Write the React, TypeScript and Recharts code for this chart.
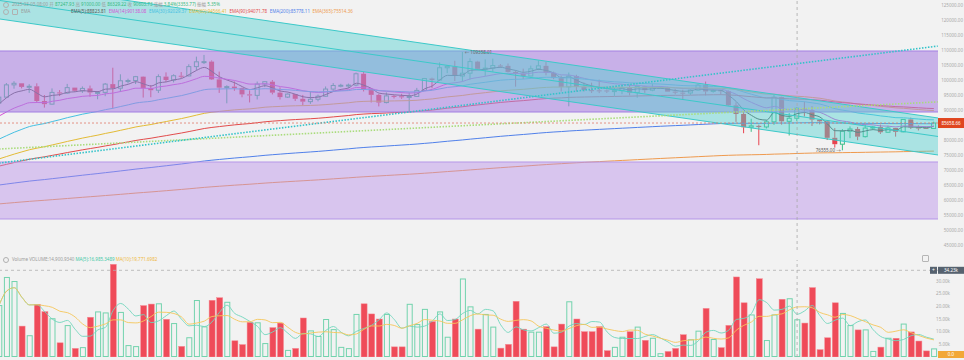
import React from "react";
import { ComposedChart, Bar, Line, Area, XAxis, YAxis, ReferenceLine, ReferenceDot } from "recharts";

// daily candles, 2024-11-20 .. 2025-03-23
const OPEN = [92310, 94290, 98380, 98900, 97700, 97900, 93000, 91950, 95860, 95640,
  97460, 96400, 97190, 95840, 95870, 98630, 97270, 99740, 99830, 101110,
  97280, 96590, 101130, 100000, 101420, 101370, 104460, 106060, 106130, 100200,
  97460, 97800, 97290, 95190, 94880, 98660, 99430, 95790, 94300, 95300,
  93740, 92790, 93580, 94590, 96980, 98170, 98240, 98310, 102080, 96920,
  95040, 92480, 94700, 94570, 94490, 94520, 96530, 100500, 99990, 104080,
  104560, 101330, 102260, 106140, 103710, 103960, 104820, 104710, 102680, 102090,
  101330, 103730, 104720, 102430, 100640, 97700, 101330, 97760, 96610, 96550,
  96510, 96440, 96460, 97430, 95780, 97870, 96610, 97500, 97570, 96120,
  95780, 95670, 96640, 98310, 96180, 96550, 96260, 91550, 88680, 84250,
  84710, 84350, 86060, 94270, 86220, 87247.93, 90600, 89930, 86800, 86220,
  80730, 78600, 82930, 83680, 81120, 83980, 84340, 82580, 84010, 82720,
  86850, 84170, 84040, 83830];
const HIGH = [94900, 99000, 99600, 98900, 98600, 98900, 95000, 97200, 96650, 98700,
  97470, 97850, 98150, 96300, 99000, 104090, 101900, 100440, 101350, 101220,
  98270, 101890, 102540, 101900, 102650, 105250, 107790, 108350, 106520, 102800,
  98230, 99540, 97450, 96540, 99490, 99570, 99960, 97540, 95530, 95340,
  95020, 96250, 95150, 97840, 98980, 98730, 98810, 102480, 102720, 97260,
  95350, 95840, 94980, 95400, 95840, 97370, 100680, 100780, 105870, 104990,
  106420, 109358.01, 107240, 106390, 106850, 107120, 105290, 105500, 103000, 103780,
  104800, 106460, 106010, 102780, 101460, 102500, 101750, 99150, 99120, 100140,
  96880, 97320, 98350, 98480, 98120, 98080, 98830, 97970, 97730, 97050,
  96750, 96900, 98710, 99480, 96980, 96650, 96500, 92540, 89410, 87080,
  85120, 86560, 95000, 94420, 88970, 91000, 92810, 91280, 86900, 86500,
  83960, 83620, 84540, 84340, 85310, 84680, 85120, 84760, 84020, 87000,
  87450, 84850, 84510, 86100];
const LOW = [91500, 94100, 97100, 97200, 95700, 92600, 90800, 91800, 94650, 95400,
  96100, 95700, 94400, 93580, 94600, 90500, 95980, 98840, 98660, 94150,
  94260, 95660, 99310, 99200, 100610, 101240, 103330, 105320, 100000, 95700,
  92230, 96400, 94250, 92520, 93510, 97630, 95200, 93500, 94010, 93010,
  91530, 92030, 92890, 94390, 96100, 97560, 97290, 97930, 96180, 92500,
  91200, 92210, 93840, 93710, 89260, 94350, 96500, 97260, 99950, 102280,
  99650, 99550, 100120, 103340, 101260, 102750, 104110, 102520, 97780, 100280,
  101330, 103280, 101560, 100280, 96150, 91230, 96150, 96160, 95680, 95620,
  95690, 94710, 95260, 94880, 94090, 95700, 96250, 97220, 96100, 95200,
  93390, 95030, 96420, 94870, 95770, 95230, 91350, 86050, 82260, 82720,
  78260, 83830, 85050, 85120, 81500, 86329.22, 87850, 84670, 85220, 80000,
  77460, 76555, 80610, 79940, 80820, 83620, 82020, 82460, 81130, 82550,
  83660, 83180, 83680, 83790];
const CLOSE = [94290, 98380, 98900, 97700, 97900, 93000, 91950, 95860, 95640, 97460,
  96400, 97190, 95840, 95870, 98630, 97270, 99740, 99830, 101110, 97280,
  96590, 101130, 100000, 101420, 101370, 104460, 106060, 106130, 100200, 97460,
  97800, 97290, 95190, 94880, 98660, 99430, 95790, 94300, 95300, 93740,
  92790, 93580, 94590, 96980, 98170, 98240, 98310, 102080, 96920, 95040,
  92480, 94700, 94570, 94490, 94520, 96530, 100500, 99990, 104080, 104560,
  101330, 102260, 106140, 103710, 103960, 104820, 104710, 102680, 102090, 101330,
  103730, 104720, 102430, 100640, 97700, 101330, 97760, 96610, 96550, 96510,
  96440, 96460, 97430, 95780, 97870, 96610, 97500, 97570, 96120, 95780,
  95670, 96640, 98310, 96180, 96550, 96260, 91550, 88680, 84250, 84710,
  84350, 86060, 94270, 86220, 87247.93, 90603.73, 89930, 86800, 86220, 80730,
  78600, 82930, 83680, 81120, 83980, 84340, 82580, 84010, 82720, 86850,
  84170, 84040, 83830, 85658.66];
// volume in thousands
const VOLUME = [20.5, 31.6, 30.0, 12.2, 8.6, 20.8, 17.9, 15.3, 5.6, 12.6,
  3.4, 3.9, 15.7, 18.0, 17.6, 36.6, 17.8, 4.7, 4.3, 20.3,
  20.9, 21.2, 14.9, 13.4, 4.2, 7.8, 22.5, 12.1, 22.4, 23.4,
  21.8, 6.4, 4.9, 13.7, 13.7, 5.5, 11.6, 13.4, 2.8, 3.4,
  15.4, 10.5, 8.3, 15, 11, 4, 3.5, 17, 21, 17,
  15, 17, 4, 4, 21, 13, 19, 14, 18, 8,
  15, 31, 20, 11, 17, 12, 3.5, 5, 22, 11,
  10, 10, 12, 4, 13, 22, 15, 10, 10, 12,
  2.5, 4, 8, 10, 12, 6.6, 7.6, 1.5, 2.2, 3.4,
  8.8, 7.0, 10.4, 19.2, 7.1, 3.7, 12.5, 31.6, 21.4, 16.8,
  30.9, 6.7, 16.8, 22.8, 23.2, 14.9, 13.4, 27.4, 2.9, 7.6,
  21.4, 17.4, 12.6, 10.7, 10.9, 2.4, 3.9, 7.6, 7.4, 13.2,
  9.9, 6.3, 2.4, 3.4];

// EMA settings; start values read at the left edge of the chart
const EMA_PERIODS = [5, 14, 30, 60, 90, 200, 365];
const EMA_START = [92000, 88000, 80300, 73700, 71300, 65000, 58700];
const EMA_COLORS = ["#555555", "#d64fd6", "#45c0e2", "#e3bb35", "#e24b4b", "#5080ea", "#ef9a4e"];
const EMA_LEGEND = ["EMA(5):88823.81", "EMA(14):90138.08", "EMA(30):92029.37", "EMA(60):94566.41", "EMA(90):94071.78", "EMA(200):85778.11", "EMA(365):75514.36"];

const PRICE_TICKS = [125000, 120000, 115000, 110000, 105000, 100000, 95000, 90000, 80000, 75000, 70000, 65000, 60000, 55000, 50000, 45000];
const VOL_TICKS = [5, 10, 15, 20, 25, 30];

// drawings (price anchors)
const UPPER_BOX = [{ x: -2, v: [89333, 109667] }, { x: 126, v: [89333, 109667] }];
const LOWER_BOX = [{ x: -2, v: [53667, 72667] }, { x: 126, v: [53667, 72667] }];
const CHANNEL = [{ x: -1, v: [120733, 133067] }, { x: 125, v: [74467, 86800] }];
const CHANNEL_MID = [{ x: -1, y: 126900 }, { x: 125, y: 80633 }];
const RISING_DOTTED = [{ x: 0, y: 72300 }, { x: 123.5, y: 111300 }];
const RISING_DASHED = [{ x: 0, y: 77000 }, { x: 123.5, y: 92700 }];

const LAST_PRICE = 85658.66;
const CROSS_INDEX = 105;
const CROSS_VOL = 34.23;
const HIGH_INDEX = 61;
const LOW_INDEX = 111;

const BG = "#f2f2f2";
const UP = "#3bbd86";
const DOWN = "#e8434f";
const VOL_UP = "#72d3ad";
const VOL_DOWN = "#ef4b59";

function ema(period: number, start: number) {
  const k = 2 / (period + 1);
  const out: number[] = [];
  CLOSE.forEach((c, i) => {
    out.push(i === 0 ? start : out[i - 1] + (c - out[i - 1]) * k);
  });
  return out;
}

function ma(n: number) {
  return VOLUME.map((_, i) => {
    const part = VOLUME.slice(Math.max(0, i - n + 1), i + 1);
    return part.reduce((a, b) => a + b, 0) / part.length;
  });
}

const emaSeries = EMA_PERIODS.map((p, j) => ema(p, EMA_START[j]));
const ma5 = ma(5);
const ma10 = ma(10);

const rows = OPEN.map((o, i) => {
  const r: any = {
    x: i, open: o, high: HIGH[i], low: LOW[i], close: CLOSE[i],
    range: [LOW[i], HIGH[i]], up: CLOSE[i] >= o,
    vol: VOLUME[i], ma5: ma5[i], ma10: ma10[i],
  };
  emaSeries.forEach((s, j) => (r["e" + j] = s[i]));
  return r;
});
const INDEX_TICKS = rows.map((r) => r.x);
const X_DOMAIN: [number, number] = [0.118, 123.54];
const PRICE_DOMAIN: [number, number] = [43333.33, 126666.67];

function Candle(props: any) {
  const { x, y, width, height, payload } = props;
  if (x == null || y == null || !payload) return null;
  const top = Math.min(y, y + height);
  const h = Math.abs(height);
  const { open, close, high, low, up } = payload;
  const k = high > low ? h / (high - low) : 0;
  const yO = top + (high - open) * k;
  const yC = top + (high - close) * k;
  const bTop = Math.min(yO, yC);
  const bH = Math.max(1, Math.abs(yC - yO));
  const cx = x + width / 2;
  const col = up ? UP : DOWN;
  return (
    <g>
      <line x1={cx} x2={cx} y1={top} y2={bTop} stroke={col} strokeWidth={1} />
      <line x1={cx} x2={cx} y1={bTop + bH} y2={top + h} stroke={col} strokeWidth={1} />
      {up ? (
        <rect x={x + 0.5} y={bTop} width={width - 1} height={bH} fill={BG} stroke={col} strokeWidth={1} />
      ) : (
        <rect x={x} y={bTop} width={width} height={bH} fill={col} />
      )}
    </g>
  );
}

function VolBar(props: any) {
  const { x, y, width, height, payload } = props;
  if (x == null || y == null || !payload) return null;
  const top = Math.min(y, y + height);
  const h = Math.abs(height);
  return payload.up ? (
    <rect x={x + 0.5} y={top + 0.5} width={width - 1} height={Math.max(0, h - 1)} fill="none" stroke={VOL_UP} strokeWidth={1} />
  ) : (
    <rect x={x} y={top} width={width} height={h} fill={VOL_DOWN} stroke="#f58a93" strokeWidth={0.5} />
  );
}

function PriceTag(props: any) {
  const vb = props.viewBox;
  if (!vb) return null;
  const r = vb.x + vb.width;
  return (
    <g>
      <rect x={r} y={vb.y - 5} width={26} height={10} fill="#e0461f" />
      <text x={r + 13} y={vb.y + 1.6} fontSize={4.5} fill="#fff" textAnchor="middle">{LAST_PRICE.toFixed(2)}</text>
    </g>
  );
}

function VolTag(props: any) {
  const vb = props.viewBox;
  if (!vb) return null;
  const r = vb.x + vb.width;
  return (
    <g>
      <rect x={r - 8} y={vb.y - 3.5} width={7} height={7} fill="#56626f" />
      <text x={r - 4.5} y={vb.y + 1.8} fontSize={5} fill="#fff" textAnchor="middle">+</text>
      <rect x={r} y={vb.y - 3.5} width={26} height={7} fill="#56626f" />
      <text x={r + 13} y={vb.y + 1.5} fontSize={4.5} fill="#fff" textAnchor="middle">{CROSS_VOL.toFixed(2)}k</text>
    </g>
  );
}

const tickStyle = { fontSize: 4.5, fill: "#a8a8a8", textAnchor: "end" };
const icon = { display: "inline-block", width: 4, height: 4, border: "0.6px solid #b0b0b0", borderRadius: "50%", marginRight: 3, verticalAlign: "middle" } as const;
const layer = { position: "absolute", left: 0, top: 0 } as const;

export default function App() {
  const font = '"Noto Sans", "Noto Sans CJK SC", sans-serif';
  const green = "#35b97f";
  const gray = "#9a9a9a";
  return (
    <div style={{ position: "absolute", left: 0, top: 0, width: 964, height: 360, background: BG, overflow: "hidden", fontFamily: font }}>
      {/* price pane: candles and EMAs underneath */}
      <div style={layer}>
        <ComposedChart width={964} height={250} data={rows} margin={{ top: 0, right: 0, bottom: 0, left: 0 }}>
          <XAxis dataKey="x" type="number" domain={X_DOMAIN} allowDataOverflow hide ticks={INDEX_TICKS} />
          <YAxis orientation="right" width={26} domain={PRICE_DOMAIN} allowDataOverflow tick={false} axisLine={false} tickLine={false} />
          <Bar dataKey="range" barSize={5} shape={<Candle />} isAnimationActive={false} />
          {EMA_PERIODS.map((p, j) => (
            <Line key={p} dataKey={"e" + j} type="monotone" stroke={EMA_COLORS[j]} strokeWidth={1} dot={false} activeDot={false} isAnimationActive={false} />
          ))}
        </ComposedChart>
      </div>

      {/* price pane: drawings on top */}
      <div style={layer}>
        <ComposedChart width={964} height={250} margin={{ top: 0, right: 0, bottom: 0, left: 0 }}>
          <XAxis dataKey="x" type="number" domain={X_DOMAIN} allowDataOverflow hide />
          <YAxis orientation="right" width={26} domain={PRICE_DOMAIN} allowDataOverflow ticks={PRICE_TICKS}
            axisLine={false} tickLine={false} tickSize={0} tickMargin={25} tick={tickStyle as any}
            tickFormatter={(v: number) => v.toFixed(2)} />
          <Area data={LOWER_BOX} dataKey="v" type="linear" fill="#b88ee9" fillOpacity={0.45} stroke="#b596e8" strokeWidth={1} isAnimationActive={false} />
          <Area data={UPPER_BOX} dataKey="v" type="linear" fill="#ac84e1" fillOpacity={0.6} stroke="#a27fe2" strokeWidth={1} isAnimationActive={false} />
          <Area data={CHANNEL} dataKey="v" type="linear" fill="#52d1d1" fillOpacity={0.45} stroke="#3cc9c9" strokeWidth={1} isAnimationActive={false} />
          <Line data={CHANNEL_MID} dataKey="y" type="linear" stroke="#3cc9c9" strokeWidth={1} dot={false} activeDot={false} isAnimationActive={false} />
          <Line data={RISING_DASHED} dataKey="y" type="linear" stroke="#a9dc7c" strokeWidth={1.6} strokeDasharray="1.5 1.5" dot={false} activeDot={false} isAnimationActive={false} />
          <Line data={RISING_DOTTED} dataKey="y" type="linear" stroke="#33c3c9" strokeWidth={1.6} strokeDasharray="1.5 1.5" dot={false} activeDot={false} isAnimationActive={false} />
          <ReferenceLine y={LAST_PRICE} stroke="#e07a6a" strokeDasharray="2 2" strokeWidth={0.8} label={<PriceTag />} />
          <ReferenceLine x={CROSS_INDEX} stroke="#a8a8a8" strokeDasharray="3 3" strokeWidth={0.8} />
          <ReferenceDot x={HIGH_INDEX} y={HIGH[HIGH_INDEX]} r={0}
            label={{ value: "← " + HIGH[HIGH_INDEX].toFixed(2), position: "right", offset: 2, fontSize: 4.5, fill: "#666" }} />
          <ReferenceDot x={LOW_INDEX} y={LOW[LOW_INDEX]} r={0}
            label={{ value: LOW[LOW_INDEX].toFixed(2) + " →", position: "left", offset: 2, fontSize: 4.5, fill: "#555" }} />
        </ComposedChart>
      </div>

      {/* volume pane */}
      <div style={{ position: "absolute", left: 0, top: 250 }}>
        <ComposedChart width={964} height={110} data={rows} margin={{ top: 10, right: 0, bottom: 3, left: 0 }}>
          <XAxis dataKey="x" type="number" domain={X_DOMAIN} allowDataOverflow hide ticks={INDEX_TICKS} />
          <YAxis orientation="right" width={26} domain={[0, 38.3]} allowDataOverflow ticks={VOL_TICKS}
            axisLine={false} tickLine={false} tickSize={0} tickMargin={12} tick={tickStyle as any}
            tickFormatter={(v: number) => v.toFixed(2) + "k"} />
          <Bar dataKey="vol" barSize={6} shape={<VolBar />} isAnimationActive={false} />
          <Line dataKey="ma5" type="monotone" stroke="#6fd6bc" strokeWidth={0.9} dot={false} activeDot={false} isAnimationActive={false} />
          <Line dataKey="ma10" type="monotone" stroke="#f5c65a" strokeWidth={0.9} dot={false} activeDot={false} isAnimationActive={false} />
          <ReferenceLine y={CROSS_VOL} stroke="#b0b0b0" strokeDasharray="3 3" strokeWidth={0.8} label={<VolTag />} />
          <ReferenceLine x={CROSS_INDEX} stroke="#a8a8a8" strokeDasharray="3 3" strokeWidth={0.8} />
        </ComposedChart>
      </div>

      {/* price legend */}
      <div style={{ position: "absolute", left: 3, top: 1.5, fontSize: 4.5, lineHeight: "5px", whiteSpace: "nowrap", color: gray }}>
        <span style={icon} />
        <span>2025-03-05 08:00</span>
        <span> 开 </span><span style={{ color: green }}>87247.93</span>
        <span> 高 </span><span style={{ color: green }}>91000.00</span>
        <span> 低 </span><span style={{ color: green }}>86329.22</span>
        <span> 收 </span><span style={{ color: green }}>90603.73</span>
        <span> 涨幅 </span><span style={{ color: green }}>3.84%(3353.77)</span>
        <span> 振幅 </span><span style={{ color: green }}>5.35%</span>
      </div>
      <div style={{ position: "absolute", left: 3, top: 8.5, fontSize: 4.5, lineHeight: "5px", whiteSpace: "nowrap", color: gray }}>
        <span style={icon} />
        <span style={{ ...icon, borderRadius: 1 }} />
        <span>EMA</span>
      </div>
      <div style={{ position: "absolute", left: 71, top: 8.5, fontSize: 4.5, lineHeight: "5px", whiteSpace: "nowrap" }}>
        {EMA_LEGEND.map((t, j) => (
          <span key={t} style={{ color: EMA_COLORS[j], marginRight: 2.5 }}>{t}</span>
        ))}
      </div>

      {/* volume legend */}
      <div style={{ position: "absolute", left: 3, top: 256.5, fontSize: 4.5, lineHeight: "5px", whiteSpace: "nowrap", color: gray }}>
        <span style={icon} />
        <span>Volume </span>
        <span>VOLUME:14,900.9340 </span>
        <span style={{ color: "#3fc9a6" }}>MA(5):16,985.3489 </span>
        <span style={{ color: "#efb93e" }}>MA(10):19,771.6982</span>
      </div>
      <div style={{ position: "absolute", left: 922, top: 255, width: 5, height: 5, border: "0.6px solid #b5b5b5", borderRadius: 1 }} />
      <div style={{ position: "absolute", left: 938, top: 351, width: 26, height: 7, background: "#f2a736", color: "#fff", fontSize: 4.5, lineHeight: "7px", textAlign: "center" }}>0.0</div>
    </div>
  );
}
